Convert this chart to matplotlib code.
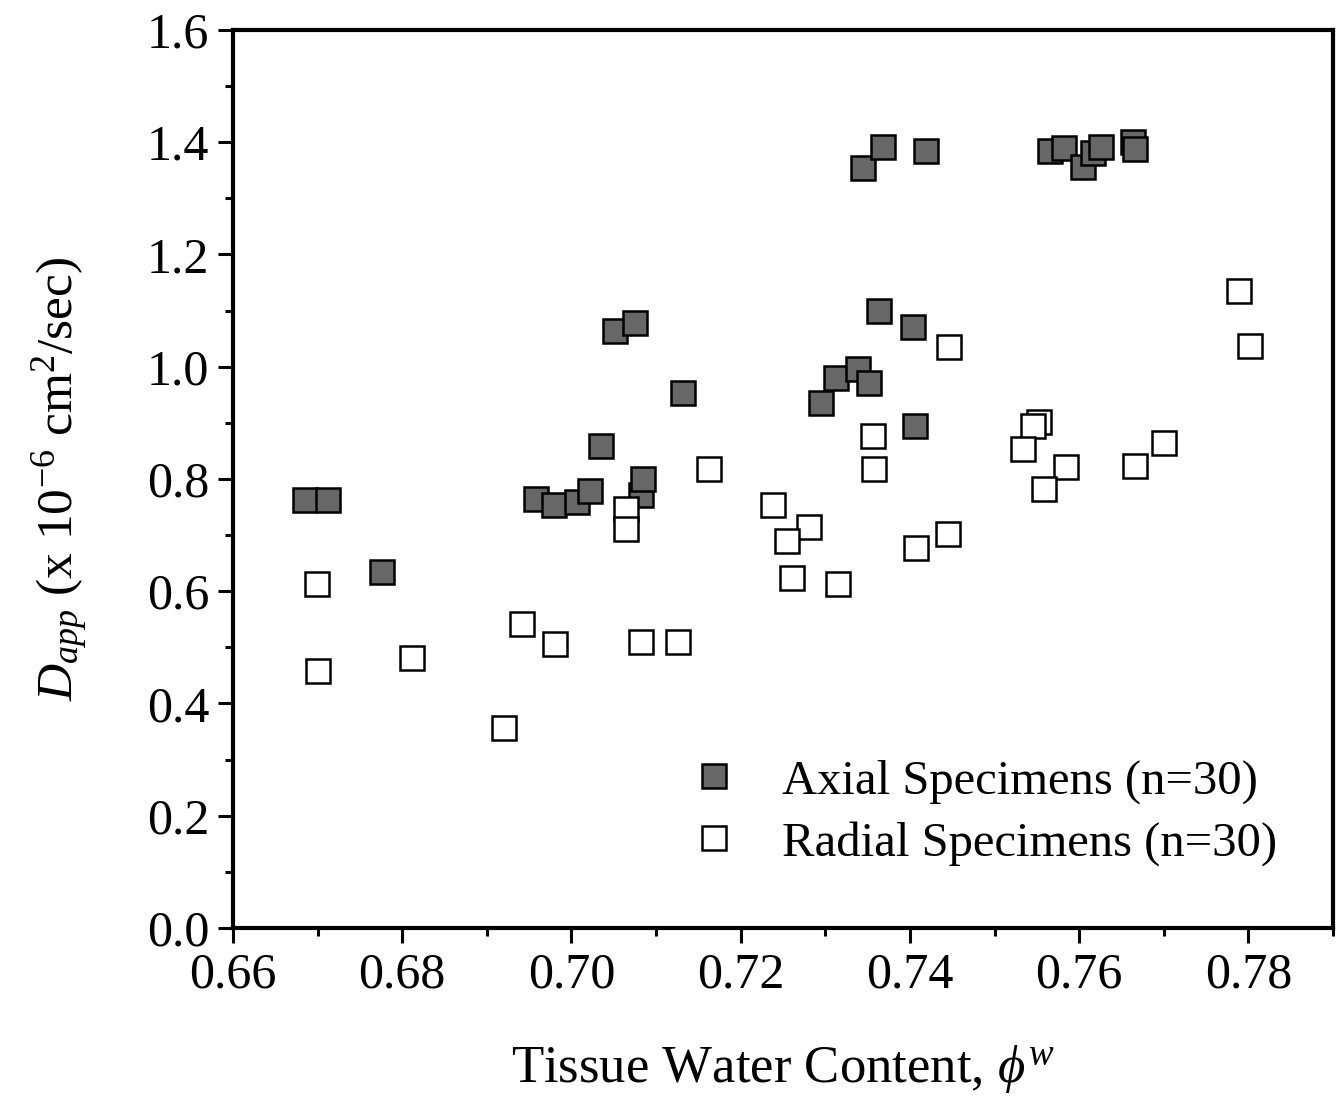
import matplotlib
matplotlib.use('Agg')
import matplotlib.pyplot as plt

plt.rcParams['font.family'] = ['Liberation Serif', 'DejaVu Serif']
plt.rcParams['mathtext.fontset'] = 'custom'
plt.rcParams['mathtext.rm'] = 'Liberation Serif'
plt.rcParams['mathtext.it'] = 'Liberation Serif:italic'

# axial specimens (filled)
axial_x = [0.6685, 0.6712, 0.6776, 0.6958, 0.6979, 0.7007, 0.7022, 0.7035,
           0.7051, 0.7075, 0.7082, 0.7085, 0.7132, 0.7295, 0.7313, 0.7339,
           0.7352, 0.7363, 0.7404, 0.7406, 0.7345, 0.7368, 0.7419, 0.7566,
           0.7582, 0.7605, 0.7616, 0.7626, 0.7664, 0.7666]
axial_y = [0.763, 0.763, 0.634, 0.765, 0.754, 0.759, 0.779, 0.859,
           1.063, 1.078, 0.772, 0.800, 0.953, 0.935, 0.980, 0.996,
           0.971, 1.099, 1.071, 0.894, 1.354, 1.392, 1.385, 1.385,
           1.390, 1.356, 1.380, 1.392, 1.401, 1.388]

# radial specimens (open)
radial_x = [0.6699, 0.6700, 0.6811, 0.6920, 0.6942, 0.6981, 0.7064, 0.7065,
            0.7082, 0.7126, 0.7789, 0.7802, 0.7446, 0.7356, 0.7358, 0.7162,
            0.7238, 0.7281, 0.7255, 0.7261, 0.7315, 0.7407, 0.7445, 0.7552,
            0.7545, 0.7534, 0.7584, 0.7559, 0.7666, 0.7700]
radial_y = [0.613, 0.458, 0.481, 0.356, 0.542, 0.506, 0.747, 0.711,
            0.510, 0.510, 1.135, 1.037, 1.035, 0.877, 0.818, 0.818,
            0.754, 0.715, 0.690, 0.623, 0.613, 0.677, 0.702, 0.901,
            0.894, 0.853, 0.821, 0.782, 0.823, 0.864]

fig = plt.figure(figsize=(13.42, 11.05), dpi=100)
ax = fig.add_axes([0.1736, 0.1602, 0.8197, 0.8127])

ax.plot(axial_x, axial_y, 's', ms=17, mfc='#676767', mec='black', mew=1.8,
        label='Axial Specimens (n=30)')
ax.plot(radial_x, radial_y, 's', ms=17, mfc='white', mec='black', mew=1.8,
        label='Radial Specimens (n=30)')

ax.set_xlim(0.66, 0.79)
ax.set_ylim(0.0, 1.6)
ax.set_xticks([0.66, 0.68, 0.70, 0.72, 0.74, 0.76, 0.78])
ax.set_xticks([0.67, 0.69, 0.71, 0.73, 0.75, 0.77, 0.79], minor=True)
ax.set_yticks([0.0, 0.2, 0.4, 0.6, 0.8, 1.0, 1.2, 1.4, 1.6])
ax.set_yticks([0.1, 0.3, 0.5, 0.7, 0.9, 1.1, 1.3, 1.5], minor=True)
ax.set_xticklabels(['0.66', '0.68', '0.70', '0.72', '0.74', '0.76', '0.78'])
ax.set_yticklabels(['0.0', '0.2', '0.4', '0.6', '0.8', '1.0', '1.2', '1.4', '1.6'])

ax.tick_params(which='major', direction='out', length=11, width=2.2,
               labelsize=36, pad=6)
ax.tick_params(which='minor', direction='out', length=6, width=2.2)
ax.tick_params(top=False, right=False)
for s in ax.spines.values():
    s.set_linewidth(3)

ax.set_xlabel(r'Tissue Water Content, $\phi^w$', fontsize=38, labelpad=32)
ax.set_ylabel(r'$D_{app}$ (x 10$^{-6}$ cm$^2$/sec)', fontsize=37, labelpad=40)

ax.legend(loc='upper left', bbox_to_anchor=(0.389, 0.215), frameon=False,
          fontsize=35, handletextpad=0.8, labelspacing=0.35, borderpad=0,
          handlelength=1.2, numpoints=1)

fig.savefig('out.png', dpi=100)
